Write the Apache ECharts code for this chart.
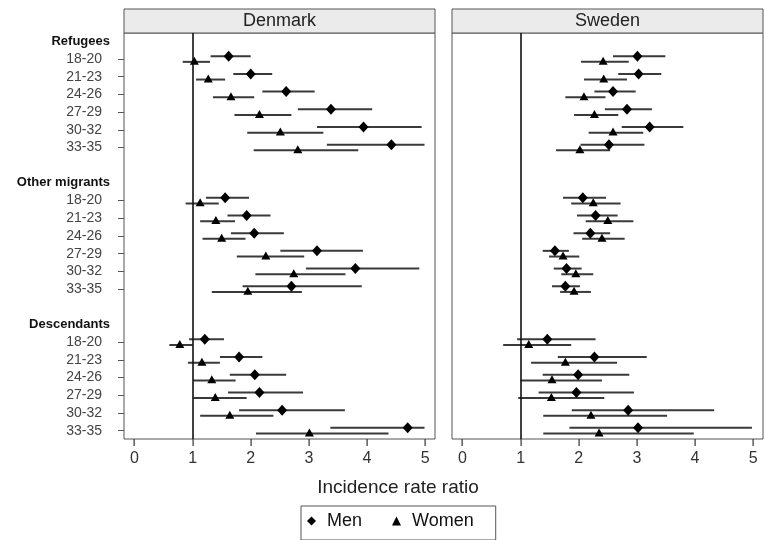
<!DOCTYPE html>
<html>
<head>
<meta charset="utf-8">
<title>Incidence rate ratio</title>
<script src="https://cdn.jsdelivr.net/npm/echarts@6/dist/echarts.min.js"></script>
</head>
<body style="margin:0">
<div id="main" style="width:765px;height:540px;"></div>
<script type="text/javascript">
var countries = ['Denmark', 'Sweden'];
var groups = ['Refugees', 'Other migrants', 'Descendants'];
var ages = ['18-20', '21-23', '24-26', '27-29', '30-32', '33-35'];
var xTicks = [0, 1, 2, 3, 4, 5];

// Denmark, rows = groups x ages
var dkMen    = [1.62, 2.00, 2.61, 3.38, 3.94, 4.42,  1.56, 1.93, 2.06, 3.14, 3.80, 2.70,  1.21, 1.80, 2.07, 2.15, 2.54, 4.70];
var dkMenLo  = [1.31, 1.70, 2.20, 2.81, 3.14, 3.31,  1.23, 1.60, 1.66, 2.51, 2.95, 1.86,  0.94, 1.47, 1.64, 1.61, 1.80, 3.37];
var dkMenHi  = [2.00, 2.37, 3.10, 4.09, 4.94, 4.99,  1.97, 2.34, 2.57, 3.93, 4.90, 3.91,  1.54, 2.20, 2.61, 2.90, 3.62, 4.99];
var dkWom    = [1.03, 1.27, 1.66, 2.15, 2.51, 2.81,  1.13, 1.40, 1.50, 2.26, 2.74, 1.95,  0.78, 1.16, 1.33, 1.39, 1.64, 3.01];
var dkWomLo  = [0.83, 1.06, 1.35, 1.72, 1.94, 2.05,  0.88, 1.13, 1.17, 1.76, 2.08, 1.33,  0.60, 0.92, 1.01, 1.01, 1.13, 2.09];
var dkWomHi  = [1.30, 1.56, 2.06, 2.70, 3.25, 3.85,  1.45, 1.73, 1.91, 2.92, 3.63, 2.88,  1.00, 1.47, 1.74, 1.93, 2.39, 4.37];

// Sweden
var seMen    = [3.01, 3.03, 2.59, 2.83, 3.22, 2.52,  2.07, 2.29, 2.20, 1.59, 1.79, 1.77,  1.46, 2.27, 1.99, 1.96, 2.85, 3.02];
var seMenLo  = [2.59, 2.68, 2.27, 2.45, 2.74, 2.03,  1.73, 1.97, 1.91, 1.38, 1.57, 1.54,  0.94, 1.64, 1.38, 1.31, 1.88, 1.84];
var seMenHi  = [3.49, 3.42, 2.98, 3.26, 3.80, 3.13,  2.47, 2.67, 2.54, 1.83, 2.05, 2.02,  2.29, 3.17, 2.87, 2.95, 4.33, 4.98];
var seWom    = [2.42, 2.43, 2.09, 2.27, 2.59, 2.02,  2.25, 2.50, 2.40, 1.73, 1.95, 1.92,  1.14, 1.77, 1.54, 1.53, 2.21, 2.35];
var seWomLo  = [2.04, 2.09, 1.77, 1.92, 2.17, 1.61,  1.87, 2.12, 2.06, 1.49, 1.70, 1.68,  0.70, 1.18, 1.00, 0.96, 1.39, 1.39];
var seWomHi  = [2.86, 2.83, 2.46, 2.68, 3.11, 2.54,  2.72, 2.94, 2.79, 2.01, 2.25, 2.21,  1.87, 2.66, 2.40, 2.44, 3.52, 3.98];

var yMin = -0.47, yMax = 22.47;

// row layout: header, 6 ages, blank, per group
function slot(i) { return Math.floor(i / 6) * 8 + 1 + (i % 6); }
var allSlots = [], ageSlots = [];
for (var s = 0; s < 23; s++) {
    allSlots.push(s);
    if (s % 8 >= 1 && s % 8 <= 6) ageSlots.push(s);
}

function pts(est, off) {
    return est.map(function (v, i) { return [v, slot(i) + off]; });
}
function bars(lo, hi, off) {
    return lo.map(function (v, i) { return [v, hi[i], slot(i) + off]; });
}

function renderBar(params, api) {
    var a = api.coord([api.value(0), api.value(2)]);
    var b = api.coord([api.value(1), api.value(2)]);
    return {
        type: 'line',
        shape: { x1: a[0], y1: a[1], x2: b[0], y2: b[1] },
        style: { stroke: '#3a3a3a', lineWidth: 2 }
    };
}

var panels = [
    { men: dkMen, menLo: dkMenLo, menHi: dkMenHi, wom: dkWom, womLo: dkWomLo, womHi: dkWomHi, left: 124 },
    { men: seMen, menLo: seMenLo, menHi: seMenHi, wom: seWom, womLo: seWomLo, womHi: seWomHi, left: 452 }
];

var grid = [], xAxis = [], yAxis = [], series = [], graphic = [];
panels.forEach(function (p, k) {
    grid.push({ left: p.left, top: 33, width: 311, height: 406, show: true,
        borderColor: '#555', borderWidth: 1, backgroundColor: '#fff' });
    xAxis.push({
        gridIndex: k, type: 'value', min: -0.18, max: 5.17, position: 'bottom',
        axisLine: { show: false, onZero: false },
        splitLine: { show: false },
        axisTick: { show: false },
        axisLabel: { customValues: xTicks, margin: 12, fontSize: 16, color: '#333', fontFamily: 'Liberation Sans' }
    });
    yAxis.push({
        gridIndex: k, type: 'value', inverse: true, min: yMin, max: yMax, position: 'left',
        axisLine: { show: false, onZero: false }, splitLine: { show: false },
        axisTick: { show: k === 0, length: 6, customValues: ageSlots, lineStyle: { color: '#555' } },
        axisLabel: {
            show: k === 0, customValues: allSlots, margin: 14,
            formatter: function (v) {
                var r = Math.round(v) % 8;
                if (r === 0) return '{h|' + groups[Math.round(v) / 8] + '}';
                if (r === 7) return '';
                return '{a|' + ages[r - 1] + '}';
            },
            rich: {
                h: { fontSize: 13, fontWeight: 'bold', color: '#111', fontFamily: 'Liberation Sans' },
                a: { fontSize: 14, color: '#444', padding: [0, 8, 0, 0], fontFamily: 'Liberation Sans' }
            }
        }
    });
    series.push({
        type: 'custom', name: 'ciMen', xAxisIndex: k, yAxisIndex: k, renderItem: renderBar,
        encode: { x: [0, 1], y: 2 }, data: bars(p.menLo, p.menHi, -0.16), silent: true,
        markLine: { silent: true, symbol: 'none', label: { show: false },
            lineStyle: { color: '#111', width: 1.6, type: 'solid' }, data: [{ xAxis: 1 }] }
    });
    series.push({
        type: 'custom', name: 'ciWomen', xAxisIndex: k, yAxisIndex: k, renderItem: renderBar,
        encode: { x: [0, 1], y: 2 }, data: bars(p.womLo, p.womHi, 0.16), silent: true
    });
    series.push({
        type: 'scatter', name: 'Men', xAxisIndex: k, yAxisIndex: k, symbol: 'diamond', symbolSize: [10, 11],
        itemStyle: { color: '#000', opacity: 1 }, data: pts(p.men, -0.16), z: 5
    });
    series.push({
        type: 'scatter', name: 'Women', xAxisIndex: k, yAxisIndex: k, symbol: 'triangle', symbolSize: [9, 8],
        itemStyle: { color: '#000', opacity: 1 }, data: pts(p.wom, 0.1), z: 5
    });
    graphic.push({ type: 'rect', shape: { x: p.left, y: 9, width: 311, height: 24 },
        style: { fill: '#ebebeb', stroke: '#555', lineWidth: 1 } });
    graphic.push({ type: 'text', x: p.left + 155.5, y: 21,
        style: { text: countries[k], fontSize: 18, fill: '#222', fontFamily: 'Liberation Sans',
            align: 'center', verticalAlign: 'middle' } });
});
graphic.push({ type: 'text', x: 398, y: 488,
    style: { text: 'Incidence rate ratio', fontSize: 19, fill: '#222', fontFamily: 'Liberation Sans',
        align: 'center', verticalAlign: 'middle' } });

var myChart = echarts.init(document.getElementById('main'));
var option = {
    animation: false,
    backgroundColor: '#fff',
    grid: grid,
    xAxis: xAxis,
    yAxis: yAxis,
    legend: {
        data: [{ name: 'Men', icon: 'diamond' }, { name: 'Women', icon: 'triangle' }],
        left: 301, top: 506, orient: 'horizontal',
        borderColor: '#555', borderWidth: 1, padding: [6, 22, 10, 6],
        itemWidth: 9, itemHeight: 9, itemGap: 30,
        textStyle: { fontSize: 18, color: '#111', fontFamily: 'Liberation Sans', padding: [0, 0, 0, 6] },
        itemStyle: { color: '#000' }
    },
    series: series
};
myChart.setOption(option);

// x ticks below each panel, placed through the axis scales
panels.forEach(function (p, k) {
    var yb = Number(myChart.convertToPixel({ gridIndex: k }, [0, yMax])[1]);
    xTicks.forEach(function (t) {
        var xp = Number(myChart.convertToPixel({ gridIndex: k }, [t, yMax])[0]);
        graphic.push({ type: 'rect', z: 100, silent: true,
            shape: { x: Math.round(xp) - 0.5, y: yb, width: 1.2, height: 7 },
            style: { fill: '#333' } });
    });
});
myChart.setOption({ graphic: graphic });

window.onresize = function () {
    myChart.resize();
};
</script>
</body>
</html>
